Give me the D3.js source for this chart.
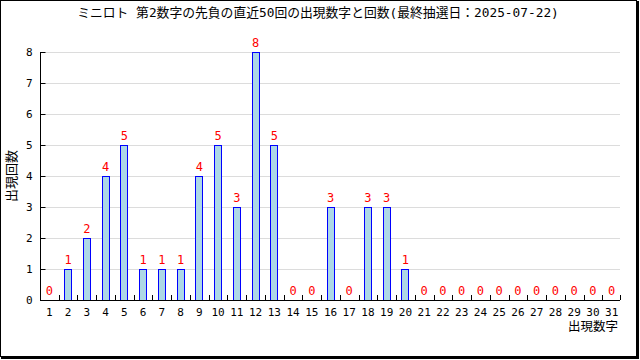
<!DOCTYPE html>
<html><head><meta charset="utf-8">
<script src="https://cdn.jsdelivr.net/npm/d3@7"></script>
<style>body{margin:0;background:#fff}svg{display:block}</style>
</head><body>
<svg id="c" width="640" height="360"></svg>
<script>
const title = "ミニロト 第2数字の先負の直近50回の出現数字と回数(最終抽選日：2025-07-22)";
const numbers = d3.range(1, 32);
const counts = [0,1,2,4,5,1,1,1,4,5,3,8,5,0,0,3,0,3,3,1,0,0,0,0,0,0,0,0,0,0,0];
const yTicks = [0,1,2,3,4,5,6,7,8];
const yLabel = "出現回数";
const xLabel = "出現数字";

const svg = d3.select("#c");
const font = "'DejaVu Sans Mono','Noto Sans CJK JP',monospace";
const m = {l:40, r:620, t:52, b:300};

const x = d3.scaleBand().domain(numbers).range([m.l, m.r + 1]);
const y = d3.scaleLinear().domain([0, 8]).range([m.b, m.t]);

// frame
svg.append("rect").attr("x",0.5).attr("y",0.5).attr("width",636).attr("height",356)
  .attr("fill","none").attr("stroke","#000");
svg.append("rect").attr("x",637).attr("y",1).attr("width",2).attr("height",358).attr("fill","#000");
svg.append("rect").attr("x",1).attr("y",357).attr("width",638).attr("height",2).attr("fill","#000");

// title
svg.append("text").attr("x",318).attr("y",17).attr("text-anchor","middle")
  .attr("font-family",font).attr("font-size",12.8).text(title);

// grid
svg.append("g").selectAll("line").data(yTicks.filter(d=>d>0)).join("line")
  .attr("x1",m.l).attr("x2",m.r).attr("y1",d=>Math.round(y(d))+0.5).attr("y2",d=>Math.round(y(d))+0.5)
  .attr("stroke","#dcdcdc");

// bars
const bw = 8;
svg.append("g").selectAll("rect").data(numbers.filter((d,i)=>counts[i]>0)).join("rect")
  .attr("x",d=>Math.round(x(d)+x.bandwidth()/2 - bw/2)+0.5)
  .attr("y",d=>Math.round(y(counts[d-1]))+0.5)
  .attr("width",bw-1)
  .attr("height",d=>Math.round(y(0))-Math.round(y(counts[d-1])))
  .attr("fill","#add8e6").attr("stroke","#0000ff");

// value labels
svg.append("g").selectAll("text").data(numbers).join("text")
  .attr("x",d=>x(d)+x.bandwidth()/2)
  .attr("y",d=>y(counts[d-1])-5)
  .attr("text-anchor","middle").attr("fill","#ff0000")
  .attr("font-family",font).attr("font-size",12)
  .text(d=>counts[d-1]);

// y axis
const ya = svg.append("g").attr("transform",`translate(${m.l+0.5},0)`)
  .call(d3.axisLeft(y).tickValues(yTicks).tickSize(-5).tickPadding(8).tickFormat(d3.format("d")));
ya.select(".domain").attr("d",`M0,${m.t}V${m.b}`).attr("stroke","#000");
ya.selectAll("text").attr("font-family",font).attr("font-size",11).attr("fill","#000");
ya.selectAll(".tick line").attr("stroke","#000").attr("x1",0).attr("x2",5);

// x axis
const xa = svg.append("g").attr("transform",`translate(0,${m.b+0.5})`)
  .call(d3.axisBottom(x).tickSize(0).tickPadding(8));
xa.select(".domain").attr("d",`M${m.l},0H${m.r}`).attr("stroke","#000").attr("stroke-width",1);
xa.selectAll("text").attr("font-family",font).attr("font-size",11).attr("fill","#000");
// boundary ticks (inward)
svg.append("g").selectAll("line").data(numbers.slice(1).concat([32])).join("line")
  .attr("x1",d=>Math.round(d===32 ? m.r : x(d))+0.5).attr("x2",d=>Math.round(d===32 ? m.r : x(d))+0.5)
  .attr("y1",m.b).attr("y2",m.b-5).attr("stroke","#000");

// axis labels
svg.append("text").attr("transform","translate(16,176) rotate(-90)").attr("text-anchor","middle")
  .attr("font-family",font).attr("font-size",13).text(yLabel);
svg.append("text").attr("x",618).attr("y",331).attr("text-anchor","end")
  .attr("font-family",font).attr("font-size",12.5).text(xLabel);
</script>
</body></html>
